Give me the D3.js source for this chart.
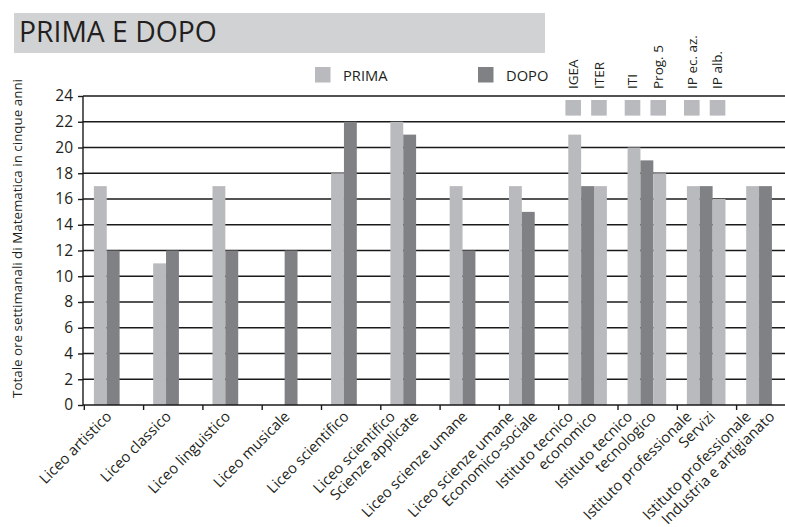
<!DOCTYPE html>
<html><head><meta charset="utf-8">
<script src="https://cdn.jsdelivr.net/npm/d3@7"></script>
<style>
body{margin:0;background:#fff}
text{font-family:"Open Sans",sans-serif;fill:#231f20}
</style>
</head><body>
<svg id="c" width="785" height="527"></svg>
<script>
const categories = [
  "Liceo artistico","Liceo classico","Liceo linguistico","Liceo musicale",
  "Liceo scientifico","Liceo scientifico\nScienze applicate","Liceo scienze umane",
  "Liceo scienze umane\nEconomico-sociale","Istituto tecnico\neconomico",
  "Istituto tecnico\ntecnologico","Istituto professionale\nServizi",
  "Istituto professionale\nIndustria e artigianato"
];
const prima    = [17, 11, 17, null, 18, 22, 17, 17, 21, 20, 17, 17];
const dopo     = [12, 12, 12, 12,   22, 21, 12, 15, 17, 19, 17, 17];
const primaAlt = [null,null,null,null,null,null,null,null, 17, 18, 16, null];
const yTicks = [0,2,4,6,8,10,12,14,16,18,20,22,24];
const seriesNames = ["PRIMA","DOPO"];
const noteLabels   = ["IGEA","ITER","ITI","Prog. 5","IP ec. az.","IP alb."];
const noteCategory = [8, 8, 9, 9, 10, 10];
const noteSlot     = [0, 2, 0, 2, 0, 2];
const titleText = "PRIMA E DOPO";
const yTitle = "Totale ore settimanali di Matematica in cinque anni";

const colLight = "#b9babd", colDark = "#808184";
const svg = d3.select("#c");

// title band
svg.append("rect").attr("x",14).attr("y",13).attr("width",531).attr("height",40).attr("fill","#d1d2d4");
svg.append("text").attr("x",19).attr("y",42).attr("font-size",28.3).text(titleText);

const x0 = 83.5, step = 59.3;
const x = d3.scaleBand().domain(categories).range([x0, x0 + step*categories.length]).padding(0);
const bw = x.bandwidth();
const slot = d3.scaleBand().domain([0,1,2]).range([0.175*bw, 0.175*bw + 3*0.217*bw]).padding(0);
const y = d3.scaleLinear().domain([0,24]).range([405,96]);

// gridlines
svg.append("g").selectAll("line").data(yTicks.filter(d=>d>0)).join("line")
  .attr("x1",83).attr("x2",785).attr("y1",d=>y(d)).attr("y2",d=>y(d))
  .attr("stroke","#1a1a1a").attr("stroke-width",1.6);

// y axis
const ya = svg.append("g").attr("transform","translate(83,0)")
  .call(d3.axisLeft(y).tickValues(yTicks).tickSize(5).tickPadding(5));
ya.select(".domain").attr("stroke","#1a1a1a").attr("stroke-width",1.4).attr("d","M0,"+y(24)+"V"+y(0));
ya.selectAll(".tick line").attr("stroke","#1a1a1a").attr("stroke-width",1.4);
ya.selectAll(".tick text").attr("font-size",15.5).attr("font-family","Open Sans").attr("fill","#231f20");

// bars
const bars = [];
categories.forEach((c,i)=>{
  if (prima[i]!=null) bars.push({c, s:0, v:prima[i], col:colLight});
  if (dopo[i]!=null) bars.push({c, s:1, v:dopo[i], col:colDark});
  if (primaAlt[i]!=null) bars.push({c, s:2, v:primaAlt[i], col:colLight});
});
svg.append("g").selectAll("rect").data(bars).join("rect")
  .attr("x",d=>x(d.c)+slot(d.s)).attr("width",slot.bandwidth())
  .attr("y",d=>y(d.v)).attr("height",d=>y(0)-y(d.v)).attr("fill",d=>d.col);

// x axis
svg.append("line").attr("x1",83).attr("x2",785).attr("y1",y(0)).attr("y2",y(0))
  .attr("stroke","#1a1a1a").attr("stroke-width",1.6);
svg.append("g").selectAll("line").data(categories).join("line")
  .attr("x1",d=>x(d)+0.8).attr("x2",d=>x(d)+0.8).attr("y1",y(0)).attr("y2",y(0)+5)
  .attr("stroke","#1a1a1a").attr("stroke-width",1.4);

// x labels
const xl = svg.append("g");
categories.forEach(c=>{
  const lines = c.split("\n");
  const cx = x(c) + bw/2;
  const offs = lines.length===1 ? [-0.5] : [-13.5, 10];
  lines.forEach((t,k)=>{
    xl.append("text").attr("transform",`translate(${cx+offs[k]},417.5) rotate(-45)`)
      .attr("text-anchor","end").attr("font-size",14.8).text(t);
  });
});

// y title
svg.append("text").attr("transform",`translate(22,${(405+72)/2}) rotate(-90)`)
  .attr("text-anchor","middle").attr("font-size",13.4).text(yTitle);

// legend
const lgX = [315, 478];
seriesNames.forEach((n,i)=>{
  svg.append("rect").attr("x",lgX[i]).attr("y",67).attr("width",15.5).attr("height",15.5)
    .attr("fill", i===0?colLight:colDark);
  svg.append("text").attr("x",lgX[i]+28).attr("y",80.7).attr("font-size",14.7).text(n);
});

// notes
noteLabels.forEach((n,i)=>{
  const cx = x(categories[noteCategory[i]]) + slot(noteSlot[i]) + slot.bandwidth()/2 - 1.5;
  svg.append("rect").attr("x",cx-7.8).attr("y",100).attr("width",15.6).attr("height",15.6).attr("fill",colLight);
  svg.append("text").attr("transform",`translate(${cx+4.8},89) rotate(-90)`)
    .attr("font-size",13.5).text(n);
});
</script>
</body></html>
